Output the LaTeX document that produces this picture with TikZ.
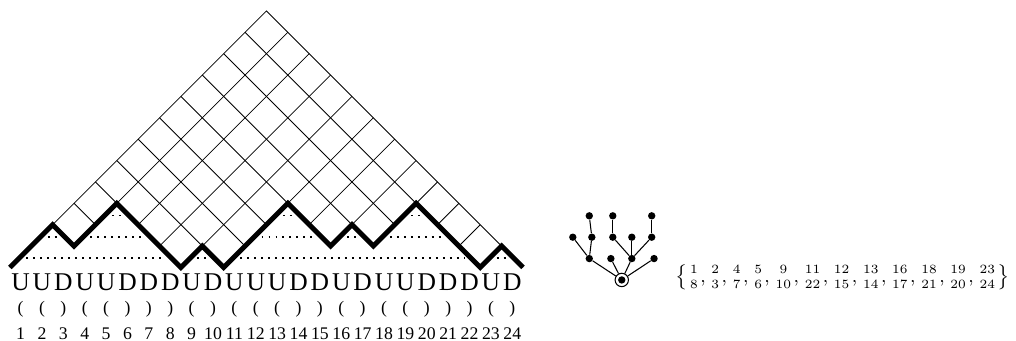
\documentclass[tikz,border=0pt]{standalone}
\usepackage{fontspec}
\newfontfamily\timesfont{Liberation Serif}
\usetikzlibrary{positioning}

\begin{document}
\begin{tikzpicture}[x=0.5cm, y=0.5cm,
  gridline/.style={line width=0.55pt},
  dyckpath/.style={line width=3.3pt},
  chord/.style={line width=1.3pt, dash pattern=on 1.3pt off 3.35pt},
  vertex/.style={circle, fill, inner sep=0pt, minimum size=4.9pt},
  treeedge/.style={line width=0.7pt},
  letter/.style={anchor=base, inner sep=0pt, font=\timesfont\fontsize{17}{20}\selectfont},
  paren/.style={anchor=base, inner sep=0pt, font=\timesfont\fontsize{11.7}{14}\selectfont},
  index/.style={anchor=base, inner sep=0pt, font=\timesfont\fontsize{11.8}{14}\selectfont}]
\useasboundingbox (-0.463,-3.438) rectangle (47.06,12.51);

% Grid above the path
\begin{scope}
\clip plot coordinates {(0,0) (1,1) (2,2) (3,1) (4,2) (5,3) (6,2) (7,1) (8,0) (9,1) (10,0) (11,1) (12,2) (13,3) (14,2) (15,1) (16,2) (17,1) (18,2) (19,3) (20,2) (21,1) (22,0) (23,1) (24,0)} -- (12,12) -- cycle;
\foreach \c in {2,4,...,22} {
  \draw[gridline] (\c,0) -- (12+\c/2,12-\c/2);
  \draw[gridline] (\c,0) -- (\c/2,\c/2);
}
\end{scope}
\draw[gridline] (0,0) -- (12,12) -- (24,0);

% Matching chords
\foreach \a/\b/\h in {0/8/0, 1/3/1, 3/7/1, 4/6/2, 8/10/0, 10/22/0, 11/15/1, 12/14/2, 15/17/1, 17/21/1, 18/20/2, 22/24/0}
  \draw[chord] (\a+0.77,\h+0.43) -- (\b-0.7,\h+0.43);

% Dyck path
\draw[dyckpath] plot coordinates {(0,0) (1,1) (2,2) (3,1) (4,2) (5,3) (6,2) (7,1) (8,0) (9,1) (10,0) (11,1) (12,2) (13,3) (14,2) (15,1) (16,2) (17,1) (18,2) (19,3) (20,2) (21,1) (22,0) (23,1) (24,0)};

% Word, parentheses and positions
\foreach [count=\i] \l in {U,U,D,U,U,D,D,D,U,D,U,U,U,D,D,U,D,U,U,D,D,D,U,D} {
  \node[letter] (w\i) at (\i-0.5,-1.085) {\l};
  \node[paren] (p\i) at (\i-0.5,-2.157) {\if\l U(\else)\fi};
  \node[index] (n\i) at (\i-0.5,-3.35) {\i};
}

% Plane tree
\begin{scope}[shift={(28.62,-0.585)}]
\node[circle, draw, line width=0.7pt, inner sep=0pt, minimum size=8.9pt] (root) at (0,0) {};
\fill (root.center) circle (2.45pt);
\node[vertex] (a) at (-1.52,1) {};
\node[vertex] (b) at (-0.51,1) {};
\node[vertex] (c) at (0.47,1) {};
\node[vertex] (d) at (1.51,1) {};
\node[vertex] (a1) at (-2.29,2) {};
\node[vertex] (a2) at (-1.40,2) {};
\node[vertex] (c1) at (-0.42,2) {};
\node[vertex] (c2) at (0.47,2) {};
\node[vertex] (c3) at (1.40,2) {};
\node[vertex] (a2a) at (-1.52,3) {};
\node[vertex] (c1a) at (-0.42,3) {};
\node[vertex] (c3a) at (1.40,3) {};
\foreach \u/\v in {root/a, root/b, root/c, root/d, a/a1, a/a2, c/c1, c/c2, c/c3, a2/a2a, c1/c1a, c3/c3a}
  \draw[treeedge] (\u) -- (\v);
\end{scope}

% Matching as a set of pairs
\node[anchor=west, inner sep=0pt, scale=1.40] (pairs) at (31.1,-0.47) {\fontsize{8.57}{10}\selectfont
  $\left\{{1\atop 8},{2\atop 3},{4\atop 7},{5\atop 6},{9\atop 10},{11\atop 22},{12\atop 15},{13\atop 14},{16\atop 17},{18\atop 21},{19\atop 20},{23\atop 24}\right\}$};

\end{tikzpicture}
\end{document}
